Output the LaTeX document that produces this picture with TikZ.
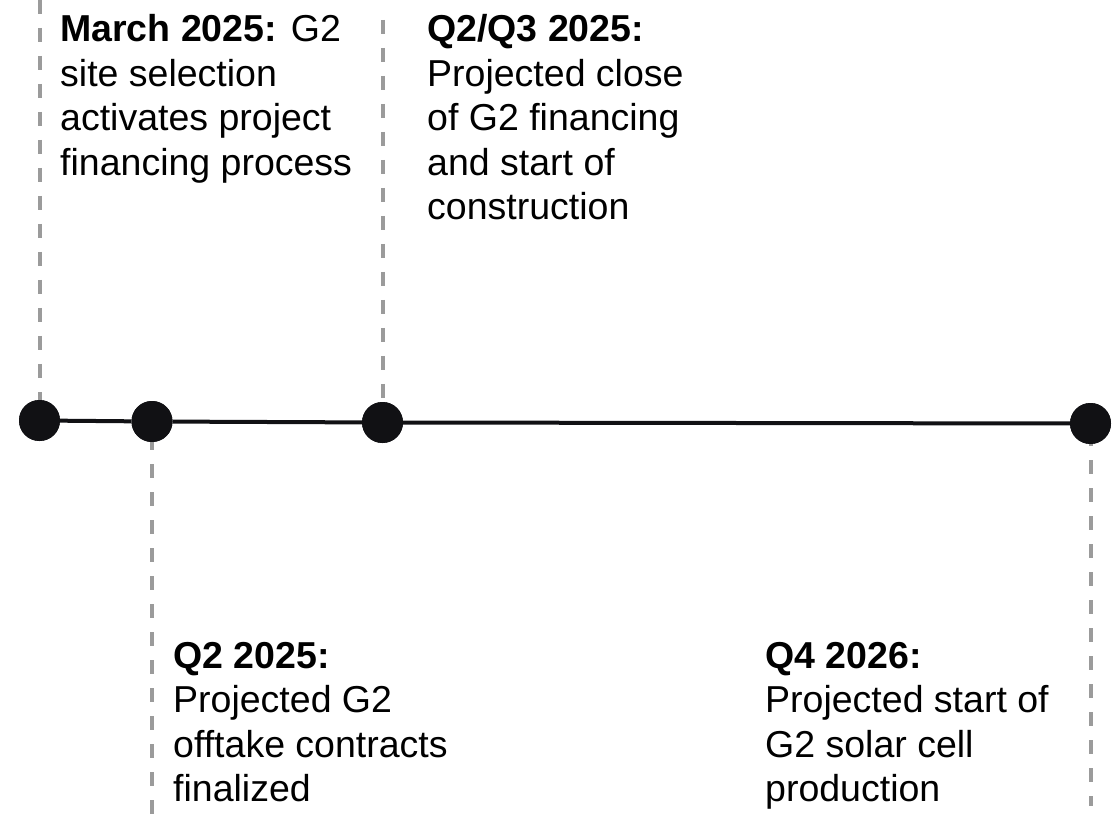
\documentclass[tikz,border=0pt]{standalone}
\usepackage{fontspec}
\setmainfont{Liberation Sans}
\begin{document}
\begin{tikzpicture}[x=1pt,y=-1pt,
  milestone/.style={circle,fill=dotblack,inner sep=0pt,minimum size=41pt},
  guide/.style={draw=guidegray,line width=4pt,dash pattern=on 14pt off 14pt},
  axis/.style={draw=dotblack,line width=4pt},
  label/.style={anchor=base west,align=left,inner sep=0pt,text=black,
    font=\fontsize{37.5}{44.5}\selectfont}]
\definecolor{dotblack}{HTML}{111114}
\definecolor{guidegray}{HTML}{9B9B9B}
\useasboundingbox (0,0) rectangle (1117,826);

% milestones on the timeline
\node[milestone] (m1) at (39.5,420.5) {};
\node[milestone] (m2) at (152,421.5) {};
\node[milestone] (m3) at (382.5,422.5) {};
\node[milestone] (m4) at (1090.5,423.5) {};

% ends of the guide lines
\coordinate (g1) at (39.5,0);
\coordinate (g3) at (382.5,20);
\coordinate (g2) at (152,826);
\coordinate (g4) at (1090.5,806);

% guide lines from the milestones to their labels
\draw[guide] (g1) -- ([yshift=-16pt]m1.north);
\draw[guide] (g3) -- ([yshift=-6pt]m3.north);
\draw[guide] ([yshift=6pt]m2.south) -- (g2);
\draw[guide] ([yshift=12pt]m4.south) -- (g4);

% timeline axis
\draw[axis] (m1) -- (m2) -- (m3) -- (m4);
\node[milestone] at (m1) {};
\node[milestone] at (m2) {};
\node[milestone] at (m3) {};
\node[milestone] at (m4) {};

% labels (anchored at the baseline of their last line)
\node[label] (t1) at (60,175.5) {\textbf{March 2025:} G2\\site selection\\activates project\\financing process};
\node[label] (t3) at (427,220) {\textbf{Q2/Q3 2025:}\\Projected close\\of G2 financing\\and start of\\construction};
\node[label] (t2) at (173,801.5) {\textbf{Q2 2025:}\\Projected G2\\offtake contracts\\finalized};
\node[label] (t4) at (765,801.5) {\textbf{Q4 2026:}\\Projected start of\\G2 solar cell\\production};
\end{tikzpicture}
\end{document}
